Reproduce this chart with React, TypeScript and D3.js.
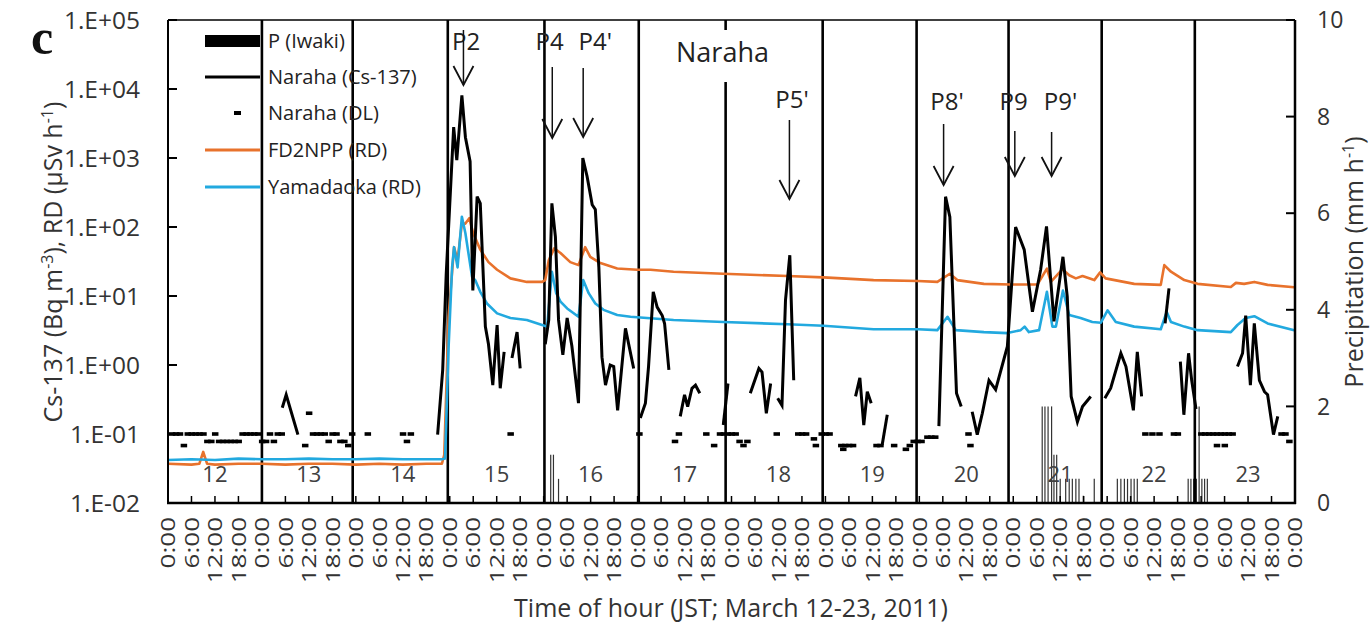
import React from "react";
import * as d3 from "d3";

// hours since 2011-03-12 00:00 JST
const dayLabels = ["12", "13", "14", "15", "16", "17", "18", "19", "20", "21", "22", "23"];
const yTicks = [1e-2, 1e-1, 1, 10, 1e2, 1e3, 1e4, 1e5];
const pTicks = [0, 2, 4, 6, 8, 10];
const separators = [24, 47.2, 71.5, 96.2, 120.3, 142.5, 167.3, 191.3, 214.8, 238.6, 262.4];

// FD2NPP (RD), µSv/h
const fd2npp: [number, number][] = [
  [0, 0.037], [6, 0.036], [8, 0.037], [9, 0.055], [10, 0.037], [12, 0.036], [18, 0.037], [24, 0.037],
  [30, 0.036], [36, 0.037], [42, 0.037], [48, 0.036], [54, 0.037], [60, 0.036], [66, 0.037], [70.0, 0.037],
  [70.6, 0.05], [71.7, 5], [73.1, 51], [74.0, 33], [75.1, 112], [76.0, 112], [77.0, 134], [78.0, 81],
  [79.8, 47], [81.9, 31], [84.1, 24], [87.5, 18], [91.7, 16], [95.6, 16], [96.4, 17], [97.3, 33],
  [98.7, 49], [100.3, 42], [102.8, 31], [104.9, 28], [106.6, 51], [107.9, 37], [110.5, 30], [114.8, 25],
  [119.9, 24], [123.3, 24], [129.2, 22.5], [141.9, 21], [158.3, 19.5], [167.5, 18.6], [180.3, 17],
  [191.6, 16.5], [196.6, 16], [199.8, 21], [201.7, 17], [208.5, 15], [215.3, 14.7], [222.2, 14.7],
  [224.6, 25], [225.6, 16], [228.6, 24.5], [230.3, 20], [232.0, 18], [233.7, 19.5], [236.7, 17],
  [238.2, 22], [239.6, 18], [246.9, 15], [253.7, 14.5], [254.6, 28], [256.3, 22.5], [259.7, 17],
  [263.1, 15], [271.6, 13.5], [272.9, 15.5], [275.0, 15], [277.6, 16], [281.0, 14.5], [287.8, 13.4],
];

// Yamadaoka (RD), µSv/h
const yamadaoka: [number, number][] = [
  [0, 0.042], [6, 0.043], [12, 0.042], [18, 0.044], [24, 0.043], [30, 0.043], [36, 0.044], [42, 0.043],
  [48, 0.043], [54, 0.044], [60, 0.043], [66, 0.043], [70.0, 0.043], [70.8, 0.044], [71.7, 1.8],
  [72.6, 26], [73.1, 51], [74.0, 26], [75.1, 141], [76.0, 81], [77.7, 19], [78.5, 17], [79.8, 11.5],
  [81.5, 7.8], [84.1, 5.6], [87.5, 4.8], [91.7, 4.5], [95.6, 3.8], [96.9, 3.6], [98.1, 22.5], [99.2, 11],
  [100.3, 8.3], [102.0, 6.6], [104.9, 5.0], [106.1, 17], [107.5, 11], [109.2, 7.8], [111.3, 6.3],
  [114.8, 5.3], [118.2, 5.0], [122.4, 4.8], [129.2, 4.5], [141.9, 4.2], [158.3, 3.9], [167.5, 3.7],
  [180.3, 3.3], [191.6, 3.3], [196.6, 3.2], [199.2, 5.0], [201.3, 3.2], [208.5, 3.0], [214.5, 2.9],
  [217.9, 3.2], [218.9, 3.6], [220.0, 3.0], [222.6, 3.2], [224.6, 11.5], [226.0, 3.6], [226.9, 3.6],
  [228.7, 12], [230.3, 5.3], [233.2, 4.8], [236.2, 4.2], [238.4, 4.1], [240.1, 6.2], [242.2, 4.2],
  [246.9, 3.6], [253.7, 3.3], [255.2, 5.9], [256.3, 4.2], [259.7, 3.6], [263.1, 3.2], [271.6, 3.0],
  [273.3, 3.8], [275.4, 4.8], [277.6, 5.1], [281.0, 4.0], [287.8, 3.2],
];

// Naraha Cs-137, Bq/m3 (segments separated by missing hours)
const naraha: [number, number][][] = [
  [[29.2, 0.24], [30.2, 0.37], [33.2, 0.098]],
  [[68.9, 0.098], [70.2, 0.85], [71.1, 21], [73.0, 2800], [73.8, 930], [75.1, 8100], [76.0, 2000],
   [77.2, 890], [77.9, 12], [79.0, 275], [79.8, 220], [81.1, 3.6], [81.9, 2.0], [83.0, 0.51],
   [84.1, 3.8], [84.9, 0.46], [85.9, 1.55]],
  [[87.9, 1.26], [89.2, 3.0], [90.0, 0.89]],
  [[96.4, 2.0], [97.3, 4.5], [98.1, 220], [99.0, 72], [99.8, 4.5], [100.9, 1.4], [102.0, 4.8],
   [103.2, 1.9], [104.9, 0.28], [106.0, 1000], [107.1, 540], [108.4, 210], [109.2, 180], [110.1, 26],
   [110.9, 1.3], [111.8, 0.51], [113.0, 1.0], [113.9, 0.95], [114.9, 0.22], [116.9, 3.4], [119.0, 0.89]],
  [[120.7, 0.17], [122.0, 0.28], [122.8, 0.95], [124.0, 11.5], [125.0, 6.9], [126.3, 5.2],
   [126.9, 4.0], [128.0, 0.85]],
  [[130.9, 0.18], [132.0, 0.37], [132.8, 0.25], [133.9, 0.46], [134.8, 0.51], [135.9, 0.39]],
  [[141.9, 0.135], [143.1, 0.54]],
  [[148.8, 0.39], [151.0, 0.89], [151.8, 0.79], [152.9, 0.2], [154.0, 0.54]],
  [[155.8, 0.33], [156.9, 0.26], [157.8, 8.7], [158.9, 39], [159.9, 0.6]],
  [[175.7, 0.35], [176.8, 0.65], [177.8, 0.135], [178.7, 0.41], [179.7, 0.28]],
  [[182.5, 0.069], [183.8, 0.19]],
  [[197.0, 0.13], [198.7, 275], [199.8, 140], [201.5, 0.39], [202.7, 0.25]],
  [[205.5, 0.21], [206.8, 0.098], [208.1, 0.2], [209.8, 0.6], [211.5, 0.44], [214.5, 1.86],
   [216.6, 100], [218.8, 47], [220.9, 5.9], [223.0, 24], [224.5, 102], [226.4, 4.3], [228.7, 37],
   [229.8, 9.8], [230.8, 0.35], [232.4, 0.15], [233.7, 0.25], [235.8, 0.35]],
  [[239.4, 0.33], [240.9, 0.46], [243.5, 1.48], [244.8, 0.95], [246.7, 0.22], [247.7, 1.55], [248.8, 0.35]],
  [[254.8, 4.0], [255.8, 12.9]],
  [[258.7, 1.12], [259.6, 0.19], [260.8, 1.48], [261.6, 0.6], [262.7, 0.23]],
  [[273.3, 0.95], [274.6, 1.48], [275.4, 5.2], [276.6, 0.51], [277.6, 4.0], [278.9, 0.6],
   [280.2, 0.41], [281.0, 0.37], [282.5, 0.098], [283.6, 0.18]],
];

// Naraha detection limit (DL), Bq/m3
const narahaDL: [number, number][] = [
  [1, 0.1], [2, 0.1], [3, 0.1], [4, 0.068], [5, 0.1], [6, 0.1], [7, 0.1], [8, 0.1], [9, 0.1],
  [10, 0.078], [11, 0.078], [12, 0.1], [13, 0.078], [14, 0.078], [15, 0.078], [16, 0.078], [17, 0.078],
  [18, 0.078], [19, 0.1], [20, 0.1], [21, 0.1], [22, 0.1], [23, 0.1], [24, 0.078], [25, 0.078], [26, 0.1],
  [27, 0.078], [28, 0.1], [29, 0.1], [35, 0.068], [36, 0.2], [37, 0.1], [38, 0.1], [39, 0.1], [40, 0.1],
  [41, 0.078], [42, 0.1], [43, 0.1], [44, 0.078], [45, 0.078], [46, 0.068], [47, 0.1], [51, 0.1],
  [60, 0.1], [61, 0.078], [62, 0.1], [87.5, 0.1], [120.4, 0.1], [129.5, 0.078], [130.5, 0.1],
  [137.5, 0.1], [139.5, 0.068], [141, 0.1], [142, 0.1], [143, 0.1], [144, 0.1], [145, 0.1],
  [146, 0.078], [147, 0.068], [148, 0.078], [155.5, 0.1], [161, 0.1], [162, 0.1], [163, 0.1],
  [165, 0.085], [165.5, 0.068], [167, 0.1], [168, 0.1], [169, 0.1], [172, 0.068], [172.5, 0.06],
  [173, 0.068], [174, 0.068], [175, 0.068], [181, 0.068], [182, 0.068], [185.5, 0.068], [188.5, 0.06],
  [189.5, 0.068], [190.5, 0.078], [191.5, 0.078], [192.5, 0.078], [194, 0.09], [195, 0.09], [196, 0.09],
  [204.5, 0.1], [205, 0.068], [249.7, 0.1], [251.5, 0.1], [253.3, 0.1], [257, 0.1], [258, 0.1],
  [264, 0.1], [265, 0.1], [266, 0.1], [267, 0.1], [268, 0.1], [269, 0.1], [270, 0.1], [271, 0.1],
  [272, 0.1], [268, 0.068], [270, 0.068], [284.5, 0.1], [285.5, 0.1], [286.5, 0.078],
];

// Precipitation at Iwaki, mm/h
const precip: [number, number][] = [
  [97.8, 1.0], [98.5, 1.0], [99.8, 0.5],
  [223.4, 2.0], [224.1, 2.0], [224.9, 2.0], [225.8, 2.0], [226.4, 1.0], [227.1, 1.0], [228.0, 0.5],
  [229.4, 0.5], [230.3, 0.5], [231.1, 0.5], [232.0, 0.5], [232.8, 0.5], [233.9, 0.15], [236.7, 0.5],
  [242.6, 0.5], [243.5, 0.5], [244.4, 0.5], [245.2, 0.5], [246.1, 0.5], [246.9, 0.5], [247.7, 0.5],
  [260.7, 0.5], [261.4, 0.5], [262.1, 0.5], [262.8, 0.5], [263.5, 2.0], [264.2, 0.5], [264.9, 0.5], [265.6, 0.5],
];

// event arrows: label, label start hour, arrow hour, label baseline, shaft top, tip
const events: [string, number, number, number, number, number][] = [
  ["P2", 72.6, 75.5, 50, 30, 85],
  ["P4", 93.9, 98.2, 50, 67, 138],
  ["P4'", 104.9, 106.1, 50, 68, 137],
  ["P5'", 155.2, 158.8, 108, 120, 199],
  ["P8'", 194.8, 198.2, 110, 124, 185],
  ["P9", 212.5, 216.4, 110, 131, 176],
  ["P9'", 223.8, 225.8, 110, 132, 176],
];

const ORANGE = "#E8722C";
const BLUE = "#22A9DF";
const FONT = "'Open Sans', sans-serif";

const App = () => {
  const W = 1370;
  const H = 629;
  const left = 168, right = 1295, top = 20, bottom = 503;

  const x = d3.scaleLinear().domain([0, 288]).range([left, right]);
  const y = d3.scaleLog().domain([0.01, 1e5]).range([bottom, top]);
  const yP = d3.scaleLinear().domain([0, 10]).range([bottom, top]);

  const line = d3
    .line<[number, number]>()
    .x((d) => x(d[0]))
    .y((d) => y(d[1]));

  const hourTicks = d3.range(0, 289, 6);
  const fmtExp = (v: number) => {
    const e = Math.round(Math.log10(v));
    return `1.E${e >= 0 ? "+" : "-"}${String(Math.abs(e)).padStart(2, "0")}`;
  };

  const legendRows = [41, 77, 113, 150, 187];
  const legendText = ["P (Iwaki)", "Naraha (Cs-137)", "Naraha (DL)", "FD2NPP (RD)", "Yamadaoka (RD)"];

  return (
    <svg width={W} height={H} style={{ position: "absolute", left: 0, top: 0, background: "#fff" }} fontFamily={FONT}>
      <rect width={W} height={H} fill="#fff" />

      {/* panel letter */}
      <text x={31} y={54} fontFamily="'Liberation Serif', 'DejaVu Serif', serif" fontWeight="bold" fontSize={50} fill="#111">c</text>

      {/* precipitation bars */}
      {precip.map(([h, p], i) => (
        <line key={"p" + i} x1={x(h)} x2={x(h)} y1={bottom} y2={yP(p)} stroke="#333" strokeWidth={1.2} />
      ))}

      {/* event separators */}
      {separators.map((h, i) => (
        <line key={"s" + i} x1={x(h)} x2={x(h)} y1={top} y2={bottom} stroke="#000" strokeWidth={2.6} />
      ))}
      <rect x={x(141.7) - 30} y={30} width={60} height={52} fill="#fff" />

      {/* RD series */}
      <path d={line(fd2npp) || ""} fill="none" stroke={ORANGE} strokeWidth={2.6} strokeLinejoin="round" />
      <path d={line(yamadaoka) || ""} fill="none" stroke={BLUE} strokeWidth={2.6} strokeLinejoin="round" />

      {/* Naraha Cs-137 */}
      {naraha.map((seg, i) => (
        <path key={"n" + i} d={line(seg) || ""} fill="none" stroke="#000" strokeWidth={3} />
      ))}

      {/* Naraha DL */}
      {narahaDL.map(([h, v], i) => (
        <rect key={"dl" + i} x={x(h) - 3} y={y(v) - 1.8} width={6.5} height={3.6} fill="#000" />
      ))}

      {/* frame */}
      <line x1={left} x2={right} y1={top} y2={top} stroke="#000" strokeWidth={1.5} />
      <line x1={left} x2={left} y1={top} y2={bottom} stroke="#000" strokeWidth={2} />
      <line x1={right} x2={right} y1={top} y2={bottom + 1} stroke="#000" strokeWidth={2.5} />
      <line x1={left - 1} x2={right + 1} y1={bottom} y2={bottom} stroke="#000" strokeWidth={2.5} />

      {/* left axis */}
      {yTicks.map((v) => (
        <g key={"yt" + v}>
          <line x1={left} x2={left + 9} y1={y(v)} y2={y(v)} stroke="#000" strokeWidth={2} />
          <text x={140} y={y(v)} dy="0.36em" textAnchor="end" fontSize={24.5} fill="#333">{fmtExp(v)}</text>
        </g>
      ))}

      {/* right axis */}
      {pTicks.map((p) => (
        <g key={"pt" + p}>
          <line x1={right - 9} x2={right} y1={yP(p)} y2={yP(p)} stroke="#000" strokeWidth={2} />
          <text x={1317} y={yP(p)} dy="0.36em" fontSize={23} fill="#333">{p}</text>
        </g>
      ))}

      {/* bottom axis */}
      {hourTicks.map((h) => (
        <g key={"xt" + h}>
          <line x1={x(h)} x2={x(h)} y1={bottom} y2={bottom - 7} stroke="#000" strokeWidth={1.5} />
          <text
            transform={`translate(${x(h)},517) rotate(-90) scale(1.3,1)`}
            textAnchor="end"
            dy="0.36em"
            fontSize={20}
            fill="#333"
          >
            {`${h % 24}:00`}
          </text>
        </g>
      ))}

      {/* day numbers */}
      {dayLabels.map((d, i) => (
        <text key={"d" + d} x={x(i * 24 + 12)} y={482} textAnchor="middle" fontSize={22} fill="#404040">{d}</text>
      ))}

      {/* axis titles */}
      <text x={731} y={617} textAnchor="middle" fontSize={25} fill="#333">Time of hour (JST; March 12-23, 2011)</text>
      <text transform="translate(62,262) rotate(-90)" textAnchor="middle" fontSize={25} fill="#333">
        Cs-137 (Bq m<tspan dy={-9} fontSize={16}>-3</tspan>
        <tspan dy={9}>), RD (µSv h</tspan>
        <tspan dy={-9} fontSize={16}>-1</tspan>
        <tspan dy={9}>)</tspan>
      </text>
      <text transform="translate(1363,262) rotate(-90)" textAnchor="middle" fontSize={25} fill="#333">
        Precipitation (mm h<tspan dy={-9} fontSize={16}>-1</tspan>
        <tspan dy={9}>)</tspan>
      </text>

      {/* legend */}
      <rect x={205} y={legendRows[0] - 6} width={55} height={12} fill="#000" />
      <line x1={205} x2={260} y1={legendRows[1]} y2={legendRows[1]} stroke="#000" strokeWidth={3} />
      <rect x={234} y={legendRows[2] - 2} width={7} height={4} fill="#000" />
      <line x1={205} x2={260} y1={legendRows[3]} y2={legendRows[3]} stroke={ORANGE} strokeWidth={3} />
      <line x1={205} x2={260} y1={legendRows[4]} y2={legendRows[4]} stroke={BLUE} strokeWidth={3} />
      {legendText.map((t, i) => (
        <text key={"lg" + i} x={268} y={legendRows[i] + 7} fontSize={20} fill="#222">{t}</text>
      ))}

      {/* site label */}
      <text x={x(141.7)} y={62} textAnchor="middle" fontSize={27} fill="#222">Naraha</text>

      {/* event arrows */}
      {events.map(([label, lh, ah, ly, sTop, tip]) => (
        <g key={"ev" + label}>
          <text x={x(lh)} y={ly} fontSize={24} fill="#222">{label}</text>
          <line x1={x(ah)} x2={x(ah)} y1={sTop} y2={tip} stroke="#111" strokeWidth={1.5} />
          <path
            d={`M${x(ah) - 10},${tip - 19} L${x(ah)},${tip} L${x(ah) + 10},${tip - 19}`}
            fill="none"
            stroke="#111"
            strokeWidth={1.8}
          />
        </g>
      ))}
    </svg>
  );
};

export default App;
